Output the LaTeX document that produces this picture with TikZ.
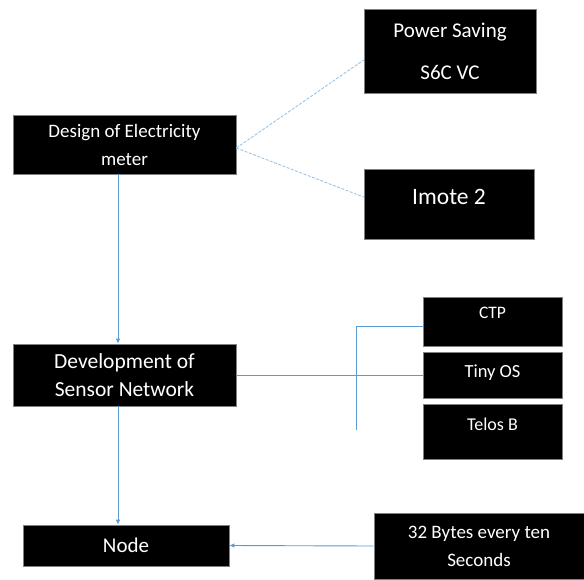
\documentclass[tikz,border=0pt]{standalone}
\usepackage{fontspec}
\setmainfont{Carlito}
\usetikzlibrary{arrows.meta,positioning,calc}
\usepackage{xcolor}
\definecolor{linkblue}{HTML}{5B9BD5}
\definecolor{softblue}{HTML}{9DC3E6}
\definecolor{edgegray}{HTML}{808080}
\tikzset{
  box/.style={draw=edgegray, line width=0.6pt, fill=black, text=white, align=center, inner sep=0pt},
  arrow/.style={-{Latex[length=5pt,width=4.5pt]}, line width=0.9pt, draw=linkblue},
  link/.style={line width=0.9pt, draw=linkblue},
  dashlink/.style={line width=0.9pt, draw=softblue, dash pattern=on 3pt off 1.5pt}
}

\begin{document}
\begin{tikzpicture}[x=1pt, y=-1pt]
  \useasboundingbox (0,0) rectangle (584,579);
  % left column
  \node[box, minimum width=223pt, minimum height=59pt, font=\fontsize{19}{28}\selectfont] (design) at (124.5,144.5) {Design of Electricity\\meter};
  \node[box, minimum width=223pt, minimum height=62pt, font=\fontsize{21.5}{28}\selectfont] (develop) at (124.5,375) {Development of\\Sensor Network};
  \node[box, minimum width=206pt, minimum height=41pt, font=\fontsize{21}{28}\selectfont] (nodebox) at (126,545.5) {Node};
  % right column
  \node[box, minimum width=172pt, minimum height=84pt, font=\fontsize{21}{42}\selectfont] (powersave) at (450,51) {Power Saving\\S6C VC};
  \node[box, minimum width=170pt, minimum height=70pt, text depth=14pt, font=\fontsize{23.5}{28}\selectfont] (imote) at (449,204) {Imote 2};
  \node[box, minimum width=139pt, minimum height=49pt, text depth=17pt, font=\fontsize{17.5}{28}\selectfont] (ctp) at (492.5,321.5) {CTP};
  \node[box, minimum width=139pt, minimum height=46pt, text depth=8pt, font=\fontsize{18.5}{28}\selectfont] (tinyos) at (492.5,375) {Tiny OS};
  \node[box, minimum width=139pt, minimum height=55pt, text depth=15pt, font=\fontsize{18}{28}\selectfont] (telos) at (492.5,431.5) {Telos B};
  \node[box, minimum width=210pt, minimum height=66pt, font=\fontsize{19}{28}\selectfont] (bytes) at (479,546) {32 Bytes every ten\\Seconds};
  \coordinate (tee) at (356,430);
  % connectors
  \draw[dashlink] ([yshift=-3.5pt]design.east) -- ([yshift=-9pt]powersave.west);
  \draw[dashlink] ([yshift=-3.5pt]design.east) -- ([yshift=7pt]imote.west);
  \draw[arrow] ([xshift=-6.5pt]design.south) -- ([xshift=-6.5pt]develop.north);
  \draw[arrow] ([xshift=-6.5pt]develop.south) -- ([xshift=-6.5pt]develop.south |- nodebox.north);
  \draw[link] (develop.east) -- (tinyos.west);
  \draw[link] (tee) |- ([yshift=-4.5pt]ctp.west);
  \draw[arrow] (bytes.west) -- (nodebox.east);
\end{tikzpicture}
\end{document}
